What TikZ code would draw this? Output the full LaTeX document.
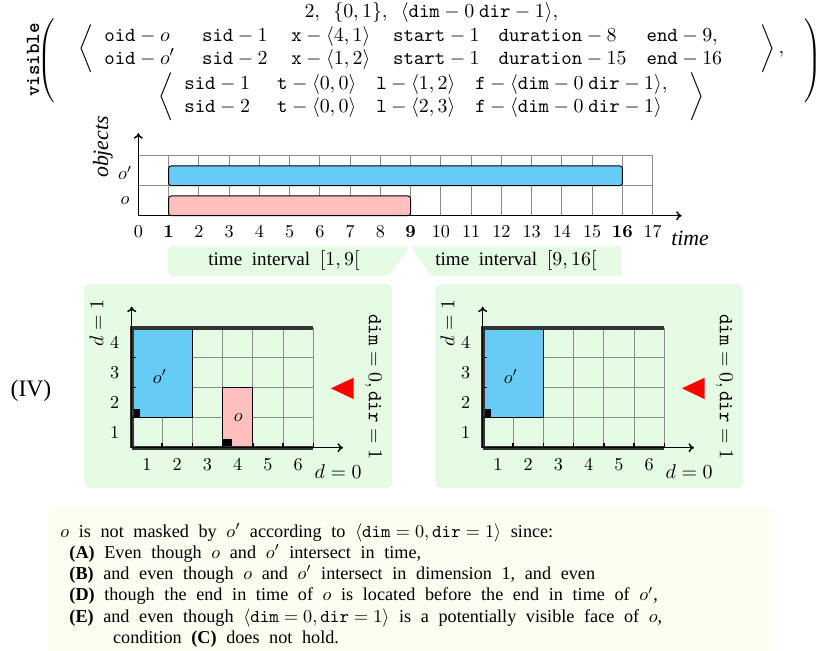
\documentclass[tikz,border=0pt]{standalone}
\usepackage[no-math]{fontspec}
\setmainfont{Liberation Serif}
\usepackage{amssymb}
\usepackage{xcolor}
\usepackage{tikz}
\usetikzlibrary{arrows.meta}

\definecolor{objcyan}{HTML}{66CCF5}
\definecolor{objpink}{HTML}{FFBFBF}
\definecolor{panelgreen}{HTML}{E6FBE4}
\definecolor{noteyellow}{HTML}{FDFDF1}
\definecolor{framegray}{HTML}{333333}

\newcommand{\widesp}{\spaceskip=5.3pt plus 1pt minus 1pt\relax}
\newcommand{\parstrut}{\vcenter{\hbox{\rule{0pt}{46pt}}}}

\tikzset{
  gridline/.style={draw=black!45, line width=0.4pt},
  objbar/.style={draw=black, rounded corners=1.5pt, line width=0.5pt},
  objbox/.style={draw=black, line width=0.5pt},
  axis/.style={-{To[length=3pt,width=5pt]}, line width=0.8pt},
  frame/.style={draw=framegray, line width=2.4pt},
  panel/.style={fill=panelgreen, rounded corners=3pt},
  biglabel/.style={font=\fontsize{11}{13}\selectfont}
}

\begin{document}
\begin{tikzpicture}[x=0.55pt, y=-0.55pt]
    \useasboundingbox (0,0) rectangle (821,651);

    % Formula
    \node[rotate=90, font=\fontsize{11}{13}\selectfont\ttfamily\bfseries] (visible) at (33,60) {visible};
    \node[inner sep=0pt, font=\fontsize{11}{12.4}\selectfont] (formula) at (429.5,61) {\delimitershortfall=0pt\delimiterfactor=1000
      $\left(\parstrut\right.\begin{array}{@{\hspace{10pt}}c@{\hspace{8pt}}}
        2,\ \ \{0,1\},\ \ \langle\mathtt{dim}-0\ \mathtt{dir}-1\rangle,\\
        \left\langle\begin{array}{@{\hspace{6pt}}l@{\hspace{15pt}}l@{\hspace{13pt}}l@{\hspace{12.5pt}}l@{\hspace{10.5pt}}l@{\hspace{11pt}}l@{\hspace{21pt}}}
          \mathtt{oid}-o & \mathtt{sid}-1 & \mathtt{x}-\langle4,1\rangle & \mathtt{start}-1 & \mathtt{duration}-8 & \mathtt{end}-9,\\
          \mathtt{oid}-o' & \mathtt{sid}-2 & \mathtt{x}-\langle1,2\rangle & \mathtt{start}-1 & \mathtt{duration}-15 & \mathtt{end}-16
        \end{array}\right\rangle,\\
        \left\langle\begin{array}{@{\hspace{6pt}}l@{\hspace{15pt}}l@{\hspace{11pt}}l@{\hspace{11pt}}l@{\hspace{12pt}}}
          \mathtt{sid}-1 & \mathtt{t}-\langle0,0\rangle & \mathtt{l}-\langle1,2\rangle & \mathtt{f}-\langle\mathtt{dim}-0\ \mathtt{dir}-1\rangle,\\
          \mathtt{sid}-2 & \mathtt{t}-\langle0,0\rangle & \mathtt{l}-\langle2,3\rangle & \mathtt{f}-\langle\mathtt{dim}-0\ \mathtt{dir}-1\rangle
        \end{array}\right\rangle
      \end{array}\left.\parstrut\right)$};

    % Timeline
    \begin{scope}[shift={(138.3,215.7)}, x=16.64pt, y=16.5pt]
      \foreach \t in {1,...,17}
        \draw[gridline] (\t,0) -- (\t,2);
      \foreach \r in {1,2}
        \draw[gridline] (0,\r) -- (17,\r);
      \draw[objbar, fill=objcyan] (1,1) rectangle (16,1.66);
      \draw[objbar, fill=objpink] (1,0) rectangle (9,0.66);
      \draw[axis] (0,0) -- (17.96,0);
      \draw[axis] (0,0) -- (0,2.75);
      \foreach \t in {0,2,3,4,5,6,7,8,10,11,12,13,14,15,17}
        \node (tick\t) at (\t,-0.53) {$\t$};
      \foreach \t in {1,9,16}
        \node (tick\t) at (\t,-0.53) {$\mathbf{\t}$};
      \node (rowop) at (-0.44,1.42) {$o'$};
      \node (rowo) at (-0.44,0.49) {$o$};
      \node[rotate=90, font=\large\itshape] (objects) at (-1.17,2.29) {objects};
      \node[font=\large\itshape] (time) at (18.24,-0.74) {time};
    \end{scope}

    % Time intervals
    \fill[panelgreen, rounded corners=2pt] (168.3,246) -- (410.3,246) -- (389,276) -- (168.3,276) -- cycle;
    \fill[panelgreen, rounded corners=2pt] (410.3,246) -- (622.3,246) -- (622.3,276) -- (431.7,276) -- cycle;
    \node[font=\fontsize{10.5}{12}\selectfont] (intA) at (284,261) {\widesp time interval $[1,9[$};
    \node[font=\fontsize{10.5}{12}\selectfont] (intB) at (516,261) {\widesp time interval $[9,16[$};

    \node[font=\fontsize{13}{15}\selectfont] (case) at (31,391) {(IV)};

    % Panels
    \foreach \dx/\pn in {0/L,351/R}{
      \fill[panel] (84+\dx,284) rectangle (392+\dx,488);
      \begin{scope}[shift={(131.7+\dx,447.7)}, x=16.65pt, y=16.5pt]
        \foreach \i in {1,...,6}
          \draw[gridline] (\i,0) -- (\i,4);
        \foreach \j in {1,2,3}
          \draw[gridline] (0,\j) -- (6,\j);
        \draw[objbox, fill=objcyan] (0,1) rectangle (2,4);
        \fill (0,1) rectangle (0.28,1.3);
        \ifnum\dx=0
          \draw[objbox, fill=objpink] (3,0) rectangle (4,2);
          \fill (3,0) rectangle (3.3,0.28);
          \node (o-\pn) at (3.52,0.99) {$o$};
        \fi
        \draw[frame] (0,0) -- (0,4) -- (6,4);
        \draw[frame] (0,0) -- (6,0);
        \foreach \i in {1,...,6}
          \draw[line width=0.8pt] (\i,0) -- (\i,0.15);
        \foreach \j in {1,2,3}
          \draw[line width=0.8pt] (0,\j) -- (0.15,\j);
        \draw[axis] (0,0) -- (6.98,0);
        \draw[axis] (0,0) -- (0,4.7);
        \foreach \i in {1,...,6}
          \node (x\i-\pn) at (\i-0.5,-0.58) {$\i$};
        \foreach \j in {1,...,4}
          \node (y\j-\pn) at (-0.56,\j-0.5) {$\j$};
        \node (op-\pn) at (0.93,2.37) {$o'$};
        \node[biglabel] (dzero-\pn) at (6.82,-0.8) {$d=0$};
        \node[biglabel, rotate=90] (done-\pn) at (-1.16,4.16) {$d=1$};
        \fill[red] (6.58,1.98) -- (7.33,2.33) -- (7.33,1.62) -- cycle;
        \node[biglabel, rotate=-90] (face-\pn) at (7.98,2.03) {$\mathtt{dim}=0,\mathtt{dir}=1$};
      \end{scope}
    }

    % Explanation
    \fill[noteyellow, rounded corners=4pt] (48.3,506.7) rectangle (774,670);
    \node[anchor=north west, align=left, inner sep=0pt, font=\fontsize{10}{11.7}\selectfont\widesp] (note) at (60,523)
      {$o$ is not masked by $o'$ according to $\langle\mathtt{dim}=0,\mathtt{dir}=1\rangle$ since:\\
       \hspace*{5pt}\textbf{(A)} Even though $o$ and $o'$ intersect in time,\\
       \hspace*{5pt}\textbf{(B)} and even though $o$ and $o'$ intersect in dimension 1, and even\\
       \hspace*{5pt}\textbf{(D)} though the end in time of $o$ is located before the end in time of $o'$,\\
       \hspace*{5pt}\textbf{(E)} and even though $\langle\mathtt{dim}=0,\mathtt{dir}=1\rangle$ is a potentially visible face of $o$,\\
       \hspace*{29pt}condition \textbf{(C)} does not hold.};
\end{tikzpicture}
\end{document}
